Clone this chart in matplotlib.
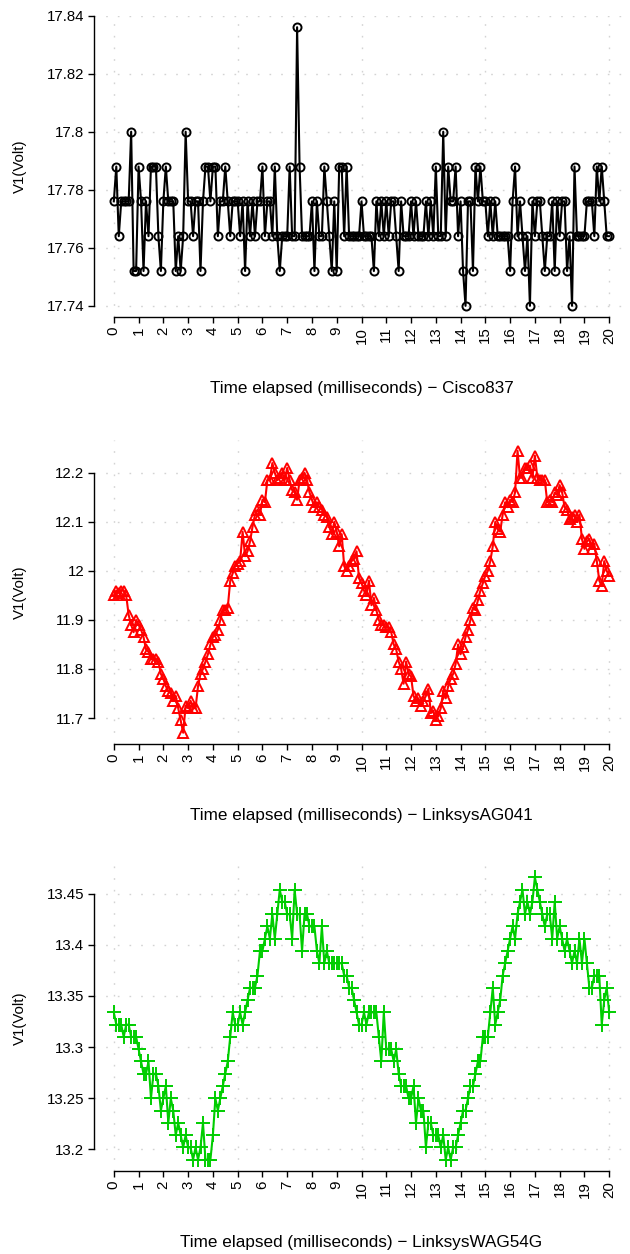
import numpy as np
import matplotlib
matplotlib.use("Agg")
import matplotlib.pyplot as plt

plt.rcParams['font.family'] = ['Liberation Sans', 'DejaVu Sans']

# ---------------- data ----------------
time_ms = [round(i * 0.1, 1) for i in range(201)]

# Cisco837 values (V)
cisco837 = [
    17.776, 17.788, 17.764, 17.776, 17.776, 17.776, 17.776, 17.800, 17.752, 17.752,
    17.788, 17.776, 17.752, 17.776, 17.764, 17.788, 17.788, 17.788, 17.764, 17.752,
    17.776, 17.788, 17.776, 17.776, 17.776, 17.752, 17.764, 17.752, 17.764, 17.800,
    17.776, 17.776, 17.764, 17.776, 17.776, 17.752, 17.776, 17.788, 17.788, 17.776,
    17.788, 17.788, 17.764, 17.776, 17.776, 17.788, 17.776, 17.764, 17.776, 17.776,
    17.776, 17.764, 17.776, 17.752, 17.776, 17.764, 17.776, 17.764, 17.776, 17.776,
    17.788, 17.764, 17.776, 17.776, 17.764, 17.788, 17.764, 17.752, 17.764, 17.764,
    17.764, 17.788, 17.764, 17.764, 17.836, 17.788, 17.764, 17.764, 17.764, 17.764,
    17.776, 17.752, 17.776, 17.764, 17.764, 17.788, 17.776, 17.764, 17.752, 17.776,
    17.752, 17.788, 17.788, 17.764, 17.788, 17.764, 17.764, 17.764, 17.764, 17.764,
    17.776, 17.764, 17.764, 17.764, 17.764, 17.752, 17.776, 17.764, 17.776, 17.764,
    17.776, 17.764, 17.776, 17.776, 17.764, 17.752, 17.776, 17.764, 17.764, 17.764,
    17.776, 17.764, 17.776, 17.764, 17.764, 17.764, 17.776, 17.764, 17.776, 17.764,
    17.788, 17.764, 17.764, 17.800, 17.764, 17.788, 17.776, 17.776, 17.788, 17.764,
    17.776, 17.752, 17.740, 17.776, 17.776, 17.752, 17.788, 17.776, 17.788, 17.776,
    17.776, 17.764, 17.776, 17.764, 17.776, 17.764, 17.764, 17.764, 17.764, 17.764,
    17.752, 17.776, 17.788, 17.764, 17.776, 17.764, 17.752, 17.764, 17.740, 17.776,
    17.764, 17.776, 17.776, 17.764, 17.752, 17.764, 17.764, 17.776, 17.752, 17.776,
    17.764, 17.776, 17.776, 17.752, 17.764, 17.740, 17.788, 17.764, 17.764, 17.764,
    17.764, 17.776, 17.776, 17.776, 17.764, 17.788, 17.776, 17.788, 17.776, 17.764,
    17.764,
]

# LinksysAG041 values (V)
linksys_ag041 = [
    11.950, 11.960, 11.955, 11.960, 11.960, 11.950, 11.910, 11.890, 11.875, 11.900,
    11.890, 11.880, 11.865, 11.840, 11.835, 11.820, 11.820, 11.820, 11.815, 11.790,
    11.780, 11.765, 11.755, 11.750, 11.735, 11.745, 11.720, 11.695, 11.670, 11.725,
    11.720, 11.735, 11.720, 11.720, 11.765, 11.790, 11.800, 11.815, 11.830, 11.850,
    11.865, 11.870, 11.880, 11.900, 11.920, 11.920, 11.925, 11.980, 11.995, 12.010,
    12.015, 12.020, 12.080, 12.030, 12.040, 12.060, 12.090, 12.115, 12.125, 12.115,
    12.145, 12.140, 12.185, 12.185, 12.220, 12.200, 12.185, 12.190, 12.200, 12.185,
    12.210, 12.185, 12.165, 12.160, 12.145, 12.185, 12.190, 12.200, 12.185, 12.160,
    12.145, 12.130, 12.140, 12.130, 12.125, 12.115, 12.110, 12.090, 12.075, 12.100,
    12.080, 12.050, 12.075, 12.010, 12.000, 12.010, 12.020, 12.025, 12.040, 11.985,
    11.975, 11.960, 11.950, 11.980, 11.930, 11.945, 11.920, 11.900, 11.890, 11.890,
    11.885, 11.885, 11.875, 11.850, 11.840, 11.815, 11.800, 11.770, 11.815, 11.790,
    11.785, 11.745, 11.735, 11.740, 11.725, 11.735, 11.745, 11.760, 11.710, 11.715,
    11.695, 11.705, 11.720, 11.755, 11.740, 11.765, 11.780, 11.790, 11.810, 11.850,
    11.830, 11.845, 11.865, 11.880, 11.900, 11.925, 11.920, 11.940, 11.960, 11.975,
    11.990, 12.000, 12.020, 12.050, 12.100, 12.085, 12.080, 12.115, 12.140, 12.130,
    12.145, 12.140, 12.160, 12.245, 12.190, 12.190, 12.210, 12.210, 12.215, 12.190,
    12.235, 12.190, 12.185, 12.185, 12.185, 12.140, 12.145, 12.140, 12.160, 12.155,
    12.175, 12.160, 12.130, 12.125, 12.105, 12.110, 12.115, 12.100, 12.115, 12.065,
    12.045, 12.060, 12.065, 12.045, 12.055, 12.020, 11.980, 11.970, 12.020, 12.000,
    11.990,
]

# LinksysWAG54G values (V)
linksys_wag54g = [
    13.334, 13.322, 13.322, 13.322, 13.310, 13.322, 13.322, 13.310, 13.310, 13.310,
    13.298, 13.286, 13.274, 13.274, 13.286, 13.250, 13.274, 13.274, 13.262, 13.238,
    13.250, 13.262, 13.226, 13.250, 13.238, 13.214, 13.226, 13.214, 13.202, 13.214,
    13.202, 13.202, 13.190, 13.202, 13.190, 13.202, 13.226, 13.190, 13.190, 13.190,
    13.214, 13.250, 13.238, 13.250, 13.262, 13.274, 13.286, 13.310, 13.334, 13.322,
    13.322, 13.334, 13.322, 13.334, 13.346, 13.358, 13.358, 13.358, 13.370, 13.394,
    13.394, 13.406, 13.418, 13.406, 13.430, 13.406, 13.430, 13.454, 13.442, 13.442,
    13.430, 13.430, 13.406, 13.454, 13.430, 13.430, 13.394, 13.430, 13.430, 13.418,
    13.418, 13.418, 13.394, 13.382, 13.418, 13.382, 13.394, 13.382, 13.382, 13.382,
    13.382, 13.382, 13.382, 13.370, 13.370, 13.358, 13.358, 13.346, 13.334, 13.322,
    13.322, 13.334, 13.322, 13.334, 13.334, 13.334, 13.334, 13.310, 13.286, 13.334,
    13.298, 13.298, 13.298, 13.286, 13.298, 13.274, 13.262, 13.262, 13.262, 13.250,
    13.250, 13.262, 13.226, 13.250, 13.238, 13.238, 13.202, 13.226, 13.226, 13.214,
    13.214, 13.214, 13.202, 13.214, 13.190, 13.202, 13.190, 13.202, 13.202, 13.214,
    13.226, 13.238, 13.238, 13.250, 13.262, 13.262, 13.274, 13.286, 13.286, 13.310,
    13.310, 13.310, 13.334, 13.358, 13.322, 13.334, 13.346, 13.370, 13.382, 13.394,
    13.406, 13.418, 13.406, 13.430, 13.442, 13.454, 13.430, 13.442, 13.430, 13.442,
    13.466, 13.454, 13.442, 13.430, 13.418, 13.430, 13.430, 13.406, 13.442, 13.406,
    13.418, 13.406, 13.394, 13.406, 13.394, 13.382, 13.394, 13.382, 13.406, 13.382,
    13.406, 13.382, 13.358, 13.358, 13.370, 13.370, 13.370, 13.322, 13.346, 13.358,
    13.334,
]

x_ticks = list(range(0, 21))
x_grid = [0, 5, 10, 15, 20]

panels = [
    dict(y=cisco837, name="Cisco837", color="black", marker="o", ms=5.8,
         yticks=[17.74, 17.76, 17.78, 17.80, 17.82, 17.84],
         ylabels=["17.74", "17.76", "17.78", "17.8", "17.82", "17.84"],
         top=15.6, bottom=317.0),
    dict(y=linksys_ag041, name="LinksysAG041", color="#FF0000", marker="^", ms=7.5,
         yticks=[11.7, 11.8, 11.9, 12.0, 12.1, 12.2],
         ylabels=["11.7", "11.8", "11.9", "12", "12.1", "12.2"],
         top=439.5, bottom=744.0),
    dict(y=linksys_wag54g, name="LinksysWAG54G", color="#00CD00", marker="+", ms=9.5,
         yticks=[13.20, 13.25, 13.30, 13.35, 13.40, 13.45],
         ylabels=["13.2", "13.25", "13.3", "13.35", "13.4", "13.45"],
         top=866.0, bottom=1171.0),
]

W, H = 630, 1254
fig = plt.figure(figsize=(W / 100, H / 100), dpi=100)

FS = 10.8
FS_XLAB = 12.3
left_px, right_px = 94.0, 629.0
for p in panels:
    ax = fig.add_axes([left_px / W, 1 - p["bottom"] / H,
                       (right_px - left_px) / W, (p["bottom"] - p["top"]) / H])
    yv = np.array(p["y"])
    rng = yv.max() - yv.min()
    ax.set_ylim(yv.min() - 0.04 * rng, yv.max() + 0.04 * rng)
    ax.set_xlim(-0.8, 20.8)

    # grid (dotted light gray)
    for gx in x_grid:
        ax.axvline(gx, color="#D3D3D3", lw=1.0, ls=(0, (1.2, 7.2)), zorder=0)
    for gy in p["yticks"]:
        ax.axhline(gy, color="#D3D3D3", lw=1.0, ls=(0, (1.2, 7.2)), zorder=0)

    ax.plot(time_ms, p["y"], color=p["color"], lw=1.5, marker=p["marker"],
            ms=p["ms"], mfc="none", mec=p["color"], mew=1.4, zorder=3)

    for s in ["top", "right"]:
        ax.spines[s].set_visible(False)
    ax.spines["left"].set_bounds(p["yticks"][0], p["yticks"][-1])
    ax.spines["bottom"].set_bounds(0, 20)
    ax.spines["left"].set_linewidth(1.0)
    ax.spines["bottom"].set_linewidth(1.0)

    ax.set_xticks(x_ticks)
    ax.set_xticklabels([str(t) for t in x_ticks], rotation=90, fontsize=FS)
    ax.set_yticks(p["yticks"])
    ax.set_yticklabels(p["ylabels"], fontsize=FS)
    ax.tick_params(axis="both", length=4.5, width=1.0, pad=2.5)

    ax.set_xlabel("Time elapsed (milliseconds) \u2212 " + p["name"], fontsize=FS_XLAB,
                  labelpad=27)
    ax.set_ylabel("V1(Volt)", fontsize=FS)
    ax.yaxis.set_label_coords(-0.125, 0.5)

fig.savefig("out.png", dpi=100)
